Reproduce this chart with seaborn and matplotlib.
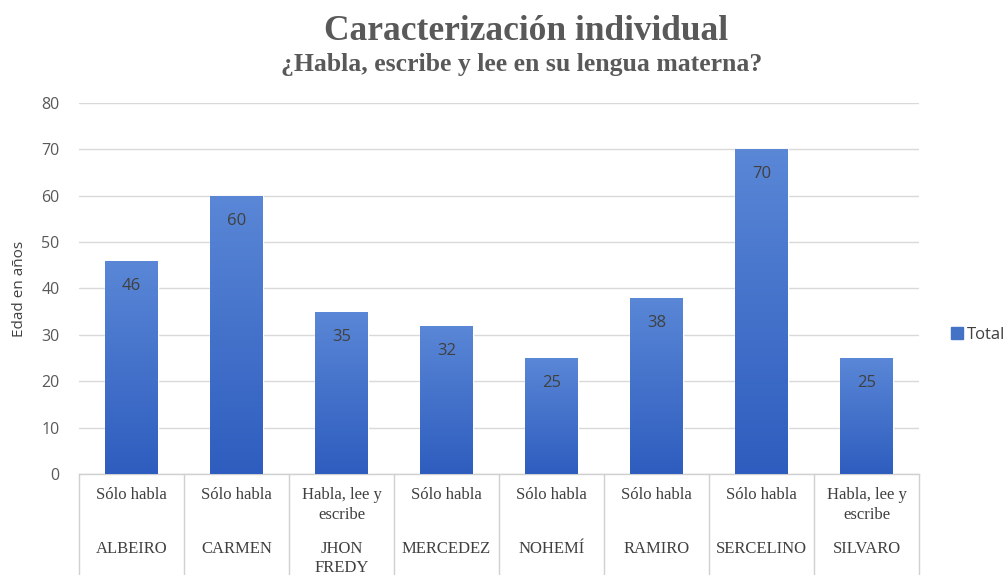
import numpy as np
import pandas as pd
import matplotlib
matplotlib.use("Agg")
import matplotlib.pyplot as plt
import seaborn as sns
from matplotlib.colors import LinearSegmentedColormap
from matplotlib.lines import Line2D

# Data
names = ["ALBEIRO", "CARMEN", "JHON\nFREDY", "MERCEDEZ", "NOHEMÍ", "RAMIRO", "SERCELINO", "SILVARO"]
abilities = ["Sólo habla", "Sólo habla", "Habla, lee y\nescribe", "Sólo habla",
             "Sólo habla", "Sólo habla", "Sólo habla", "Habla, lee y\nescribe"]
ages = [46, 60, 35, 32, 25, 38, 70, 25]
yticks = [0, 10, 20, 30, 40, 50, 60, 70, 80]

df = pd.DataFrame({"name": names, "age": ages})

sns.set_theme(style="white")
plt.rcParams["font.family"] = ["Open Sans", "DejaVu Sans"]

fig = plt.figure(figsize=(10.05, 5.75), dpi=100)
ax = fig.add_axes([0.0786, 0.1757, 0.836, 0.6452])

sns.barplot(data=df, x="name", y="age", color="#4472c4", width=0.5,
            saturation=1, ax=ax, zorder=2)

ax.set_ylim(0, 80)
ax.set_xlim(-0.5, len(names) - 0.5)
ax.set_yticks(yticks)
ax.set_yticklabels([str(t) for t in yticks], fontsize=11.5, color="#595959")
ax.tick_params(axis="y", length=0, pad=14)
ax.set_xticks([])
ax.set_xlabel("")
ax.set_ylabel("Edad en años", fontsize=11, color="#404040", labelpad=10)
ax.yaxis.grid(True, color="#d9d9d9", linewidth=1)
ax.set_axisbelow(True)
for s in ["top", "right", "left"]:
    ax.spines[s].set_visible(False)
ax.spines["bottom"].set_color("#d0d0d0")
ax.spines["bottom"].set_linewidth(1)

# Vertical gradient fill on each bar
grad = LinearSegmentedColormap.from_list("bar", ["#2e5dbf", "#5a87d6"])
gimg = np.linspace(0, 1, 256).reshape(-1, 1)
for patch in ax.patches:
    x0, y0 = patch.get_x(), patch.get_y()
    w, h = patch.get_width(), patch.get_height()
    im = ax.imshow(gimg, cmap=grad, origin="lower", aspect="auto",
                   extent=[x0, x0 + w, y0, y0 + h], zorder=3)
    im.set_clip_path(patch)
ax.set_xlim(-0.5, len(names) - 0.5)
ax.set_ylim(0, 80)

# Value labels inside the top of each bar
for i, v in enumerate(ages):
    ax.annotate(str(v), (i, v), xytext=(0, -18), textcoords="offset points",
                ha="center", va="center", fontsize=12, color="#404040", zorder=5)

# Category table below the axis
serif = ["Liberation Serif", "DejaVu Serif"]
for i in range(len(names) + 1):
    ax.plot([i - 0.5, i - 0.5], [0, -22], color="#d0d0d0", lw=1,
            clip_on=False, zorder=1)
for i, (a, n) in enumerate(zip(abilities, names)):
    ax.text(i, -2.9, a, ha="center", va="top", fontsize=12, color="#404040",
            family=serif, linespacing=1.3, clip_on=False)
    ax.text(i, -14.4, n, ha="center", va="top", fontsize=12, color="#404040",
            family=serif, linespacing=1.3, clip_on=False)

# Titles
fig.text(0.523, 0.946, "Caracterización individual", ha="center", va="center",
         fontsize=25.5, fontweight="bold", color="#595959", family=serif)
fig.text(0.519, 0.888, "¿Habla, escribe y lee en su lengua materna?", ha="center",
         va="center", fontsize=18.5, fontweight="bold", color="#595959", family=serif)

# Legend
handle = Line2D([], [], marker="s", linestyle="none", markersize=8,
                markerfacecolor="#4472c4", markeredgecolor="#4472c4")
fig.legend([handle], ["Total"], loc="center left", bbox_to_anchor=(0.937, 0.417),
           frameon=False, fontsize=12, handletextpad=0.1, handlelength=1.0,
           labelcolor="#404040", borderaxespad=0)

fig.savefig("out.png", dpi=100)
